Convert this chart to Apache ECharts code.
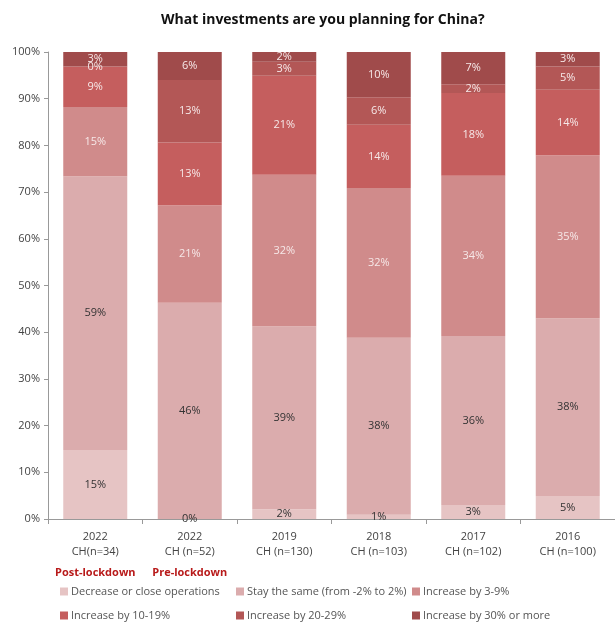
<!DOCTYPE html>
<html>
<head>
<meta charset="utf-8">
<script src="https://cdn.jsdelivr.net/npm/echarts@6/dist/echarts.min.js"></script>
<style>
  html, body { margin: 0; padding: 0; background: #fff; }
  #chart { width: 615px; height: 625px; }
</style>
</head>
<body>
<div id="chart"></div>
<script>
// categories (x axis)
const years = ['2022', '2022', '2019', '2018', '2017', '2016'];
const samples = ['CH(n=34)', 'CH (n=52)', 'CH (n=130)', 'CH (n=103)', 'CH (n=102)', 'CH (n=100)'];
const notes = ['Post-lockdown', 'Pre-lockdown', '', '', '', ''];

// shares in %
const decrease = [14.8, 0, 2.1, 0.9, 3.0, 4.9];
const stay = [58.6, 46.3, 39.2, 37.9, 36.2, 38.1];
const inc3to9 = [14.8, 20.9, 32.4, 32.1, 34.3, 34.9];
const inc10to19 = [8.7, 13.4, 21.2, 13.5, 17.7, 14.0];
const inc20to29 = [0, 13.4, 3.0, 5.9, 1.9, 5.0];
const inc30plus = [3.1, 6.0, 2.1, 9.7, 6.9, 3.1];

const yTicks = [0, 10, 20, 30, 40, 50, 60, 70, 80, 90, 100];

const seriesNames = ['Decrease or close operations', 'Stay the same (from -2% to 2%)', 'Increase by 3-9%',
  'Increase by 10-19%', 'Increase by 20-29%', 'Increase by 30% or more'];
const seriesData = [decrease, stay, inc3to9, inc10to19, inc20to29, inc30plus];
const colors = ['#e6c4c4', '#dbacad', '#d08b8b', '#c55e5e', '#b35756', '#a04b4b'];
const labelColors = ['#333', '#333', '#f6e8e8', '#f6e8e8', '#f6e8e8', '#f6e8e8'];

const FONT = 'Open Sans';

let myChart = echarts.init(document.getElementById('chart'));

let series = seriesNames.map((name, i) => ({
  name: name,
  type: 'bar',
  stack: 'all',
  barWidth: 64,
  data: seriesData[i],
  itemStyle: { color: colors[i] },
  label: {
    show: true,
    position: 'inside',
    color: labelColors[i],
    fontFamily: FONT,
    fontSize: 11,
    formatter: p => Math.round(p.value) + '%'
  }
}));

// one legend per item so the 3x2 layout is fixed
const legendLeft = [60, 236, 412];
const legendTop = [586, 610];
let legends = seriesNames.map((name, i) => ({
  left: legendLeft[i % 3],
  top: legendTop[Math.floor(i / 3)],
  padding: 0,
  data: [name],
  itemWidth: 8, itemHeight: 8, icon: 'rect',
  textStyle: { fontFamily: FONT, fontSize: 11, color: '#555', padding: [0, 0, 0, -2] }
}));

myChart.setOption({
  animation: false,
  color: colors,
  title: {
    text: 'What investments are you planning for China?',
    left: 156,
    top: 8,
    textStyle: { fontFamily: FONT, fontWeight: 'bold', fontSize: 14, color: '#111' }
  },
  grid: { left: 48, top: 52, width: 573, height: 467, containLabel: false },
  legend: legends,
  xAxis: {
    type: 'category',
    data: years.map((y, i) => y + '\n' + samples[i] + (notes[i] ? '\n{red|' + notes[i] + '}' : '')),
    axisLine: { lineStyle: { color: '#999' } },
    axisTick: { show: true, lineStyle: { color: '#999' } },
    axisLabel: {
      fontFamily: FONT, fontSize: 11, color: '#444', lineHeight: 15, margin: 10,
      interval: 0,
      rich: { red: { color: '#b81a1a', fontWeight: 'bold', fontFamily: FONT, fontSize: 11, lineHeight: 22, padding: [5, 0, 0, 0] } }
    }
  },
  yAxis: {
    type: 'value',
    min: yTicks[0],
    max: yTicks[yTicks.length - 1],
    interval: 10,
    axisLine: { show: true, lineStyle: { color: '#999' } },
    axisTick: { show: true, length: 4, lineStyle: { color: '#999' } },
    splitLine: { show: false },
    axisLabel: { fontFamily: FONT, fontSize: 11, color: '#444', margin: 8, formatter: '{value}%' }
  },
  series: series
});
</script>
</body>
</html>
